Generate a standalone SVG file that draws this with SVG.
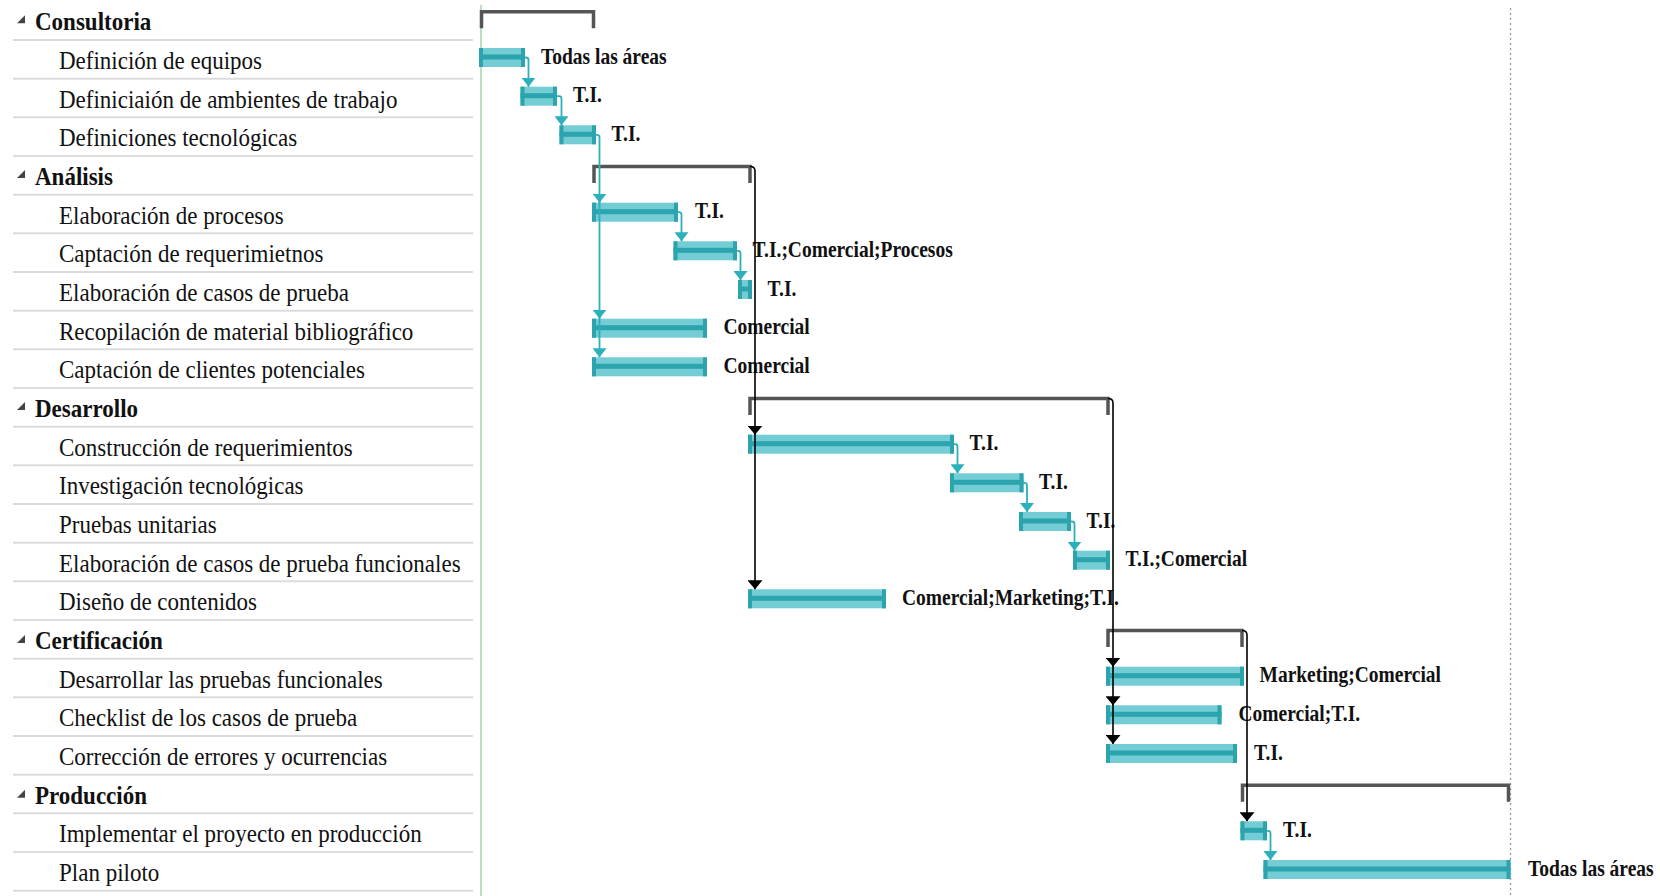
<svg xmlns="http://www.w3.org/2000/svg" width="1660" height="896" viewBox="0 0 1660 896">
<style>
.t{font-family:"Liberation Serif","Times New Roman",serif;font-size:23px;fill:#111}
.s{font-weight:bold}
.l{font-family:"Liberation Serif","Times New Roman",serif;font-size:19.5px;font-weight:bold;fill:#111}
.sep{stroke:#dcdcdc;stroke-width:2}
.bar{fill:#74ccd4}
.mid{fill:#2ba4ae}
.tri{fill:#444}
.sum{fill:none;stroke:#555;stroke-width:3.5}
.tc{fill:none;stroke:#2bb0bc;stroke-width:1.8}
.kc{fill:none;stroke:#000;stroke-width:1.6}
</style>
<defs>
<marker id="ta" markerUnits="userSpaceOnUse" viewBox="0 0 9 14" markerWidth="9" markerHeight="14" refX="9" refY="7" orient="auto"><path d="M0,0 L9,7 L0,14 z" fill="#2bb0bc"/></marker>
<marker id="ka" markerUnits="userSpaceOnUse" viewBox="0 0 9 15" markerWidth="9" markerHeight="15" refX="9" refY="7.5" orient="auto"><path d="M0,0 L9,7.5 L0,15 z" fill="#000"/></marker>
</defs>
<rect width="1660" height="896" fill="#fff"/>
<g id="grid">
<line class="sep" x1="13" y1="40" x2="473" y2="40"/>
<line class="sep" x1="13" y1="78.7" x2="473" y2="78.7"/>
<line class="sep" x1="13" y1="117.3" x2="473" y2="117.3"/>
<line class="sep" x1="13" y1="156" x2="473" y2="156"/>
<line class="sep" x1="13" y1="194.7" x2="473" y2="194.7"/>
<line class="sep" x1="13" y1="233.3" x2="473" y2="233.3"/>
<line class="sep" x1="13" y1="272" x2="473" y2="272"/>
<line class="sep" x1="13" y1="310.7" x2="473" y2="310.7"/>
<line class="sep" x1="13" y1="349.3" x2="473" y2="349.3"/>
<line class="sep" x1="13" y1="388" x2="473" y2="388"/>
<line class="sep" x1="13" y1="426.7" x2="473" y2="426.7"/>
<line class="sep" x1="13" y1="465.3" x2="473" y2="465.3"/>
<line class="sep" x1="13" y1="504" x2="473" y2="504"/>
<line class="sep" x1="13" y1="542.7" x2="473" y2="542.7"/>
<line class="sep" x1="13" y1="581.3" x2="473" y2="581.3"/>
<line class="sep" x1="13" y1="620" x2="473" y2="620"/>
<line class="sep" x1="13" y1="658.7" x2="473" y2="658.7"/>
<line class="sep" x1="13" y1="697.3" x2="473" y2="697.3"/>
<line class="sep" x1="13" y1="736" x2="473" y2="736"/>
<line class="sep" x1="13" y1="774.7" x2="473" y2="774.7"/>
<line class="sep" x1="13" y1="813.3" x2="473" y2="813.3"/>
<line class="sep" x1="13" y1="852" x2="473" y2="852"/>
<line class="sep" x1="13" y1="890.7" x2="473" y2="890.7"/>
<line x1="481" y1="5" x2="481" y2="896" stroke="#a8d4a8" stroke-width="1.5"/>
<line x1="1510.5" y1="8" x2="1510.5" y2="896" stroke="#9a9a9a" stroke-width="1.3" stroke-dasharray="2 3"/>
</g>

<g id="consultoria">
<polygon class="tri" points="25,15.3 25,23.3 17,23.3"/>
<text class="t s" transform="translate(35,30.3) scale(1,1.14)">Consultoria</text>
<path class="sum" d="M481.5,28.3 V11.8 H593.5 V28.3"/>
</g>
<g id="t1">
<text class="t" transform="translate(59,69) scale(1,1.14)">Definición de equipos</text>
<rect class="bar" x="479" y="48" width="46" height="19"/><rect class="mid" x="479" y="54.5" width="46" height="5"/><rect class="mid" x="479" y="48" width="4" height="19"/><rect class="mid" x="521" y="48" width="4" height="19"/>
<text class="l" transform="translate(541,63.5) scale(1,1.15)">Todas las áreas</text>
</g>
<g id="t2">
<text class="t" transform="translate(59,107.7) scale(1,1.14)">Definiciaión de ambientes de trabajo</text>
<rect class="bar" x="520.5" y="86.7" width="36.5" height="19"/><rect class="mid" x="520.5" y="93.2" width="36.5" height="5"/><rect class="mid" x="520.5" y="86.7" width="4" height="19"/><rect class="mid" x="553" y="86.7" width="4" height="19"/>
<text class="l" transform="translate(573,102.2) scale(1,1.15)">T.I.</text>
</g>
<g id="t3">
<text class="t" transform="translate(59,146.3) scale(1,1.14)">Definiciones tecnológicas</text>
<rect class="bar" x="559.5" y="125.3" width="36.5" height="19"/><rect class="mid" x="559.5" y="131.8" width="36.5" height="5"/><rect class="mid" x="559.5" y="125.3" width="4" height="19"/><rect class="mid" x="592" y="125.3" width="4" height="19"/>
<text class="l" transform="translate(611.5,140.8) scale(1,1.15)">T.I.</text>
</g>

<g id="analisis">
<polygon class="tri" points="25,170 25,178 17,178"/>
<text class="t s" transform="translate(35,185) scale(1,1.14)">Análisis</text>
<path class="sum" d="M594,183 V166.5 H750 V183"/>
</g>
<g id="t5">
<text class="t" transform="translate(59,223.7) scale(1,1.14)">Elaboración de procesos</text>
<rect class="bar" x="592" y="202.7" width="86" height="19"/><rect class="mid" x="592" y="209.2" width="86" height="5"/><rect class="mid" x="592" y="202.7" width="4" height="19"/><rect class="mid" x="674" y="202.7" width="4" height="19"/>
<text class="l" transform="translate(695,218.2) scale(1,1.15)">T.I.</text>
</g>
<g id="t6">
<text class="t" transform="translate(59,262.3) scale(1,1.14)">Captación de requerimietnos</text>
<rect class="bar" x="673.5" y="241.3" width="63.5" height="19"/><rect class="mid" x="673.5" y="247.8" width="63.5" height="5"/><rect class="mid" x="673.5" y="241.3" width="4" height="19"/><rect class="mid" x="733" y="241.3" width="4" height="19"/>
<text class="l" transform="translate(752.5,256.8) scale(1,1.15)">T.I.;Comercial;Procesos</text>
</g>
<g id="t7">
<text class="t" transform="translate(59,301) scale(1,1.14)">Elaboración de casos de prueba</text>
<rect class="bar" x="738" y="280" width="14" height="19"/><rect class="mid" x="738" y="286.5" width="14" height="5"/><rect class="mid" x="738" y="280" width="4" height="19"/><rect class="mid" x="748" y="280" width="4" height="19"/>
<text class="l" transform="translate(767.5,295.5) scale(1,1.15)">T.I.</text>
</g>
<g id="t8">
<text class="t" transform="translate(59,339.7) scale(1,1.14)">Recopilación de material bibliográfico</text>
<rect class="bar" x="592" y="318.7" width="115" height="19"/><rect class="mid" x="592" y="325.2" width="115" height="5"/><rect class="mid" x="592" y="318.7" width="4" height="19"/><rect class="mid" x="703" y="318.7" width="4" height="19"/>
<text class="l" transform="translate(723.5,334.2) scale(1,1.15)">Comercial</text>
</g>
<g id="t9">
<text class="t" transform="translate(59,378.3) scale(1,1.14)">Captación de clientes potenciales</text>
<rect class="bar" x="592" y="357.3" width="115" height="19"/><rect class="mid" x="592" y="363.8" width="115" height="5"/><rect class="mid" x="592" y="357.3" width="4" height="19"/><rect class="mid" x="703" y="357.3" width="4" height="19"/>
<text class="l" transform="translate(723.5,372.8) scale(1,1.15)">Comercial</text>
</g>

<g id="desarrollo">
<polygon class="tri" points="25,402 25,410 17,410"/>
<text class="t s" transform="translate(35,417) scale(1,1.14)">Desarrollo</text>
<path class="sum" d="M750,415 V398.5 H1108 V415"/>
</g>
<g id="t11">
<text class="t" transform="translate(59,455.7) scale(1,1.14)">Construcción de requerimientos</text>
<rect class="bar" x="748" y="434.7" width="206" height="19"/><rect class="mid" x="748" y="441.2" width="206" height="5"/><rect class="mid" x="748" y="434.7" width="4" height="19"/><rect class="mid" x="950" y="434.7" width="4" height="19"/>
<text class="l" transform="translate(969.5,450.2) scale(1,1.15)">T.I.</text>
</g>
<g id="t12">
<text class="t" transform="translate(59,494.3) scale(1,1.14)">Investigación tecnológicas</text>
<rect class="bar" x="950" y="473.3" width="73.5" height="19"/><rect class="mid" x="950" y="479.8" width="73.5" height="5"/><rect class="mid" x="950" y="473.3" width="4" height="19"/><rect class="mid" x="1019.5" y="473.3" width="4" height="19"/>
<text class="l" transform="translate(1039,488.8) scale(1,1.15)">T.I.</text>
</g>
<g id="t13">
<text class="t" transform="translate(59,533) scale(1,1.14)">Pruebas unitarias</text>
<rect class="bar" x="1019" y="512" width="52" height="19"/><rect class="mid" x="1019" y="518.5" width="52" height="5"/><rect class="mid" x="1019" y="512" width="4" height="19"/><rect class="mid" x="1067" y="512" width="4" height="19"/>
<text class="l" transform="translate(1086.5,527.5) scale(1,1.15)">T.I.</text>
</g>
<g id="t14">
<text class="t" transform="translate(59,571.7) scale(1,1.14)">Elaboración de casos de prueba funcionales</text>
<rect class="bar" x="1073" y="550.7" width="37" height="19"/><rect class="mid" x="1073" y="557.2" width="37" height="5"/><rect class="mid" x="1073" y="550.7" width="4" height="19"/><rect class="mid" x="1106" y="550.7" width="4" height="19"/>
<text class="l" transform="translate(1125.5,566.2) scale(1,1.15)">T.I.;Comercial</text>
</g>
<g id="t15">
<text class="t" transform="translate(59,610.3) scale(1,1.14)">Diseño de contenidos</text>
<rect class="bar" x="748" y="589.3" width="138" height="19"/><rect class="mid" x="748" y="595.8" width="138" height="5"/><rect class="mid" x="748" y="589.3" width="4" height="19"/><rect class="mid" x="882" y="589.3" width="4" height="19"/>
<text class="l" transform="translate(902,604.8) scale(1,1.15)">Comercial;Marketing;T.I.</text>
</g>

<g id="certificacion">
<polygon class="tri" points="25,635 25,643 17,643"/>
<text class="t s" transform="translate(35,649) scale(1,1.14)">Certificación</text>
<path class="sum" d="M1108,647 V630.5 H1242 V647"/>
</g>
<g id="t17">
<text class="t" transform="translate(59,687.7) scale(1,1.14)">Desarrollar las pruebas funcionales</text>
<rect class="bar" x="1106" y="666.7" width="138" height="19"/><rect class="mid" x="1106" y="673.2" width="138" height="5"/><rect class="mid" x="1106" y="666.7" width="4" height="19"/><rect class="mid" x="1240" y="666.7" width="4" height="19"/>
<text class="l" transform="translate(1259.5,682.2) scale(1,1.15)">Marketing;Comercial</text>
</g>
<g id="t18">
<text class="t" transform="translate(59,726.3) scale(1,1.14)">Checklist de los casos de prueba</text>
<rect class="bar" x="1106" y="705.3" width="115.5" height="19"/><rect class="mid" x="1106" y="711.8" width="115.5" height="5"/><rect class="mid" x="1106" y="705.3" width="4" height="19"/><rect class="mid" x="1217.5" y="705.3" width="4" height="19"/>
<text class="l" transform="translate(1238.5,720.8) scale(1,1.15)">Comercial;T.I.</text>
</g>
<g id="t19">
<text class="t" transform="translate(59,765) scale(1,1.14)">Corrección de errores y ocurrencias</text>
<rect class="bar" x="1106" y="744" width="131" height="19"/><rect class="mid" x="1106" y="750.5" width="131" height="5"/><rect class="mid" x="1106" y="744" width="4" height="19"/><rect class="mid" x="1233" y="744" width="4" height="19"/>
<text class="l" transform="translate(1254,759.5) scale(1,1.15)">T.I.</text>
</g>

<g id="produccion">
<polygon class="tri" points="25,789.7 25,797.7 17,797.7"/>
<text class="t s" transform="translate(35,803.7) scale(1,1.14)">Producción</text>
<path class="sum" d="M1242.5,801.7 V785.2 H1508.5 V801.7"/>
</g>
<g id="t21">
<text class="t" transform="translate(59,842.3) scale(1,1.14)">Implementar el proyecto en producción</text>
<rect class="bar" x="1240.5" y="821.3" width="26.5" height="19"/><rect class="mid" x="1240.5" y="827.8" width="26.5" height="5"/><rect class="mid" x="1240.5" y="821.3" width="4" height="19"/><rect class="mid" x="1263" y="821.3" width="4" height="19"/>
<text class="l" transform="translate(1283,836.8) scale(1,1.15)">T.I.</text>
</g>
<g id="t22">
<text class="t" transform="translate(59,881) scale(1,1.14)">Plan piloto</text>
<rect class="bar" x="1263.5" y="860" width="247" height="19"/><rect class="mid" x="1263.5" y="866.5" width="247" height="5"/><rect class="mid" x="1263.5" y="860" width="4" height="19"/><rect class="mid" x="1506.5" y="860" width="4" height="19"/>
<text class="l" transform="translate(1528,875.5) scale(1,1.15)">Todas las áreas</text>
</g>

<g id="connectors">
<path class="tc" marker-end="url(#ta)" d="M525,57.5 H526 Q528.5,57.5 528.5,60 V86.7"/>
<path class="tc" marker-end="url(#ta)" d="M557,96.2 H559 Q561.5,96.2 561.5,98.7 V125.3"/>
<path class="tc" marker-end="url(#ta)" d="M596,134.8 H597 Q599.5,134.8 599.5,137.3 V202.7"/>
<path class="tc" marker-end="url(#ta)" d="M599.5,200 V318.7"/>
<path class="tc" marker-end="url(#ta)" d="M599.5,315 V357.3"/>
<path class="tc" marker-end="url(#ta)" d="M678,212.2 H679 Q681.5,212.2 681.5,214.7 V241.3"/>
<path class="tc" marker-end="url(#ta)" d="M737,250.8 H738 Q740.5,250.8 740.5,253.3 V280"/>
<path class="tc" marker-end="url(#ta)" d="M954,444.2 H955 Q957.5,444.2 957.5,446.7 V473.3"/>
<path class="tc" marker-end="url(#ta)" d="M1023.5,482.8 H1024.5 Q1027,482.8 1027,485.3 V512"/>
<path class="tc" marker-end="url(#ta)" d="M1071,521.5 H1072 Q1074.5,521.5 1074.5,524 V550.7"/>
<path class="tc" marker-end="url(#ta)" d="M1267,830.8 H1268 Q1270.5,830.8 1270.5,833.3 V860"/>
<path class="kc" marker-end="url(#ka)" d="M750,166.5 Q755,166.5 755,171 V434.7"/>
<path class="kc" marker-end="url(#ka)" d="M755,430 V589.3"/>
<path class="kc" marker-end="url(#ka)" d="M1108,398.5 Q1113,398.5 1113,403 V666.7"/>
<path class="kc" marker-end="url(#ka)" d="M1113,660 V705.3"/>
<path class="kc" marker-end="url(#ka)" d="M1113,700 V744"/>
<path class="kc" marker-end="url(#ka)" d="M1242,630.5 Q1247,630.5 1247,635 V821.3"/>
</g>
</svg>
